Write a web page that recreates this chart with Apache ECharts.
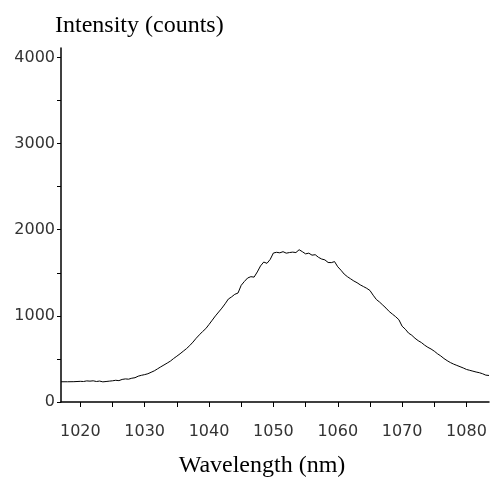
<!DOCTYPE html>
<html>
<head>
<meta charset="utf-8">
<script src="https://cdn.jsdelivr.net/npm/echarts@6/dist/echarts.min.js"></script>
<style>
  html, body { margin: 0; padding: 0; background: #fff; }
  #chart { width: 490px; height: 483px; }
</style>
</head>
<body>
<div id="chart"></div>
<script>
/* wavelength (nm) */
const wavelength = [
  1017, 1018, 1019, 1020, 1020.5, 1021, 1021.5, 1022, 1022.5, 1023, 1023.5, 1024, 1024.5,
  1025, 1025.5, 1026, 1026.5, 1027, 1027.5, 1028, 1028.5, 1029, 1029.5, 1030, 1030.5,
  1031, 1031.5, 1032, 1032.5, 1033, 1033.5, 1034, 1034.5, 1035, 1035.5, 1036, 1036.5,
  1037, 1037.5, 1038, 1038.5, 1039, 1039.5, 1040, 1040.5, 1041, 1041.5, 1042, 1042.5,
  1043, 1043.5, 1044, 1044.5, 1045, 1045.5, 1046, 1046.5, 1047, 1047.5, 1048, 1048.5,
  1049, 1049.5, 1050, 1050.5, 1051, 1051.5, 1052, 1052.5, 1053, 1053.5, 1054, 1054.5,
  1055, 1055.5, 1056, 1056.5, 1057, 1057.5, 1058, 1058.5, 1059, 1059.5, 1060, 1060.5,
  1061, 1061.5, 1062, 1062.5, 1063, 1063.5, 1064, 1064.5, 1065, 1065.5, 1066, 1066.5,
  1067, 1067.5, 1068, 1068.5, 1069, 1069.5, 1070, 1070.5, 1071, 1071.5, 1072, 1072.5,
  1073, 1073.5, 1074, 1074.5, 1075, 1075.5, 1076, 1076.5, 1077, 1077.5, 1078, 1078.5,
  1079, 1079.5, 1080, 1080.5, 1081, 1081.5, 1082, 1082.5, 1083, 1083.5
];
/* intensity (counts) */
const intensity = [
  235, 235, 236, 240, 238, 245, 242, 246, 238, 243, 234, 238, 242,
  246, 252, 248, 262, 268, 265, 276, 282, 300, 310, 318, 328,
  345, 362, 385, 408, 430, 452, 475, 505, 532, 560, 590, 620,
  655, 695, 740, 780, 818, 852, 900, 950, 1000, 1045, 1090, 1140,
  1195, 1220, 1250, 1265, 1355, 1400, 1440, 1455, 1450, 1510, 1580, 1625,
  1610, 1655, 1730, 1738, 1732, 1745, 1728, 1735, 1740, 1735, 1768, 1745,
  1720, 1728, 1705, 1710, 1680, 1660, 1650, 1620, 1618, 1630, 1570, 1530,
  1485, 1455, 1430, 1405, 1385, 1360, 1340, 1320, 1295, 1240, 1190, 1160,
  1125, 1090, 1050, 1020, 990, 955, 880, 845, 800, 775, 740, 712,
  690, 660, 635, 615, 590, 560, 535, 505, 480, 458, 440, 425,
  410, 395, 378, 368, 358, 348, 340, 328, 312, 308
];
const xTicks = [1020, 1025, 1030, 1035, 1040, 1045, 1050, 1055, 1060, 1065, 1070, 1075, 1080];
const xLabels = [1020, 1030, 1040, 1050, 1060, 1070, 1080];
const yTicks = [0, 500, 1000, 1500, 2000, 2500, 3000, 3500, 4000];
const yLabels = [0, 1000, 2000, 3000, 4000];

const points = wavelength.map((w, i) => [w, intensity[i]]);
const labelStyle = { fontFamily: 'DejaVu Sans', fontSize: 16, color: '#333', formatter: v => String(v) };

const myChart = echarts.init(document.getElementById('chart'));
myChart.setOption({
    animation: false,
    backgroundColor: '#fff',
    grid: { left: 61, right: 1, top: 48, bottom: 75 },
    /* tick labels on the x axis are cut at the bottom in the original */
    graphic: [{
        type: 'rect',
        z: 100,
        shape: { x: 55, y: 438, width: 435, height: 12 },
        style: { fill: '#fff' }
    }],
    xAxis: {
        type: 'value',
        min: 1017,
        max: 1083.5,
        name: 'Wavelength (nm)',
        nameLocation: 'middle',
        nameGap: 52,
        nameTextStyle: { fontFamily: 'Liberation Serif', fontSize: 24, color: '#000', padding: [0, 26, 0, 0] },
        axisLine: { lineStyle: { color: '#000', width: 1.5 } },
        axisTick: { customValues: xTicks, length: 5, lineStyle: { color: '#000' } },
        axisLabel: Object.assign({ customValues: xLabels, margin: 22 }, labelStyle),
        splitLine: { show: false }
    },
    yAxis: {
        type: 'value',
        min: 0,
        max: 4110,
        name: 'Intensity (counts)',
        nameLocation: 'end',
        nameGap: 10,
        nameTextStyle: { fontFamily: 'Liberation Serif', fontSize: 24, color: '#000', align: 'left', verticalAlign: 'bottom', padding: [0, 0, 0, -6] },
        axisLine: { show: true, lineStyle: { color: '#000', width: 1.5 } },
        axisTick: { show: true, customValues: yTicks, length: 4, lineStyle: { color: '#000' } },
        axisLabel: Object.assign({ customValues: yLabels, margin: 6, padding: [3, 0, 0, 0] }, labelStyle),
        splitLine: { show: false }
    },
    series: [{
        type: 'line',
        data: points,
        showSymbol: false,
        lineStyle: { color: '#000', width: 1 }
    }]
});
</script>
</body>
</html>
